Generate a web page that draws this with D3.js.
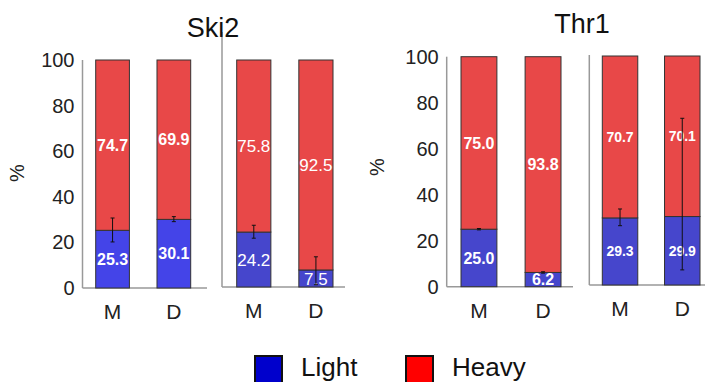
<!DOCTYPE html>
<html>
<head>
<meta charset="utf-8">
<script src="https://cdn.jsdelivr.net/npm/d3@7"></script>
<style>
  body { margin: 0; background: #fff; }
  text { font-family: "Liberation Sans", Arial, sans-serif; }
</style>
</head>
<body>
<svg id="chart" width="705" height="382"></svg>
<script>
// data
const categories = ["M", "D"];
const series = ["Light", "Heavy"];
const yTicks = [0, 20, 40, 60, 80, 100];
const titles = ["Ski2", "Thr1"];

const ski2Light1 = [25.3, 30.1];
const ski2Heavy1 = [74.7, 69.9];
const ski2ErrLo1 = [20.2, 29.1];
const ski2ErrHi1 = [30.7, 31.3];

const ski2Light2 = [24.2, 7.5];
const ski2Heavy2 = [75.8, 92.5];
const ski2ErrLo2 = [21.5, 1.0];
const ski2ErrHi2 = [27.2, 13.3];

const thr1Light1 = [25.0, 6.2];
const thr1Heavy1 = [75.0, 93.8];
const thr1ErrLo1 = [24.7, 5.9];
const thr1ErrHi1 = [25.3, 6.5];

const thr1Light2 = [29.3, 29.9];
const thr1Heavy2 = [70.7, 70.1];
const thr1ErrLo2 = [25.9, 6.6];
const thr1ErrHi2 = [33.2, 72.8];

const svg = d3.select("#chart");
const red = "#e84848";

// one entry per sub panel: geometry + styles
const panels = [
    {light: ski2Light1, heavy: ski2Heavy1, lo: ski2ErrLo1, hi: ski2ErrHi1, axisX: 82.5, lineTop: 60, y0: 288, y100: 60,
     bars: [95.7, 190.7], pad: 0.45, baseEnd: 207, blue: "#4444e8", fs: 16, fw: "bold", ticks: true},
    {light: ski2Light2, heavy: ski2Heavy2, lo: ski2ErrLo2, hi: ski2ErrHi2, axisX: 222, lineTop: 32, y0: 287, y100: 60,
     bars: [236.7, 333], pad: 0.45, baseEnd: 345, blue: "#4646cc", fs: 17, fw: "normal", ticks: false},
    {light: thr1Light1, heavy: thr1Heavy1, lo: thr1ErrLo1, hi: thr1ErrHi1, axisX: 446.7, lineTop: 56.7, y0: 286.7, y100: 56.7,
     bars: [461, 561], pad: 0.44, baseEnd: 573, blue: "#4646cc", fs: 16, fw: "bold", ticks: true},
    {light: thr1Light2, heavy: thr1Heavy2, lo: thr1ErrLo2, hi: thr1ErrHi2, axisX: 589.3, lineTop: 55, y0: 285, y100: 56,
     bars: [602.3, 700], pad: 0.43, baseEnd: 705, blue: "#4646cc", fs: 14, fw: "bold", ticks: false}
];

panels.forEach(p => {
    const g = svg.append("g");
    const x = d3.scaleBand().domain(categories).range(p.bars).paddingInner(p.pad).paddingOuter(0);
    const y = d3.scaleLinear().domain([0, 100]).range([p.y0, p.y100]);

    // axis lines
    g.append("line")
        .attr("x1", p.axisX).attr("x2", p.axisX)
        .attr("y1", p.lineTop).attr("y2", p.y0)
        .attr("stroke", "#999").attr("stroke-width", 1.5);
    g.append("line")
        .attr("x1", p.axisX).attr("x2", p.baseEnd)
        .attr("y1", p.y0).attr("y2", p.y0)
        .attr("stroke", "#999").attr("stroke-width", 1.5);

    if (p.ticks) {
        const yAxis = g.append("g")
            .attr("transform", `translate(${p.axisX},0)`)
            .call(d3.axisLeft(y).tickValues(yTicks).tickSize(0).tickPadding(8));
        yAxis.select(".domain").remove();
        yAxis.selectAll("text")
            .attr("font-size", 20)
            .attr("font-family", "Liberation Sans, Arial, sans-serif")
            .attr("fill", "#222");
    }

    const rows = categories.map((c, i) => ({cat: c, light: p.light[i], heavy: p.heavy[i], lo: p.lo[i], hi: p.hi[i]}));
    const stack = d3.stack().keys(["light", "heavy"])(rows);

    g.selectAll("g.layer")
        .data(stack)
        .enter().append("g")
        .attr("class", "layer")
        .attr("fill", d => d.key === "light" ? p.blue : red)
        .selectAll("rect")
        .data(d => d)
        .enter().append("rect")
        .attr("x", d => x(d.data.cat))
        .attr("width", x.bandwidth())
        .attr("y", d => y(d[1]))
        .attr("height", d => y(d[0]) - y(d[1]))
        .attr("stroke", "#333")
        .attr("stroke-width", 1);

    // value labels in each segment
    stack.forEach(layer => {
        g.selectAll(null)
            .data(layer)
            .enter().append("text")
            .attr("x", d => x(d.data.cat) + x.bandwidth() / 2)
            .attr("y", d => (y(d[0]) + y(d[1])) / 2)
            .attr("dy", "0.36em")
            .attr("text-anchor", "middle")
            .attr("fill", "#fff")
            .attr("font-size", p.fs)
            .attr("font-weight", p.fw)
            .text(d => d3.format(".1f")(d[1] - d[0]));
    });

    // error bars on the light segment
    const eb = g.selectAll("g.err")
        .data(rows)
        .enter().append("g")
        .attr("class", "err")
        .attr("stroke", "#111")
        .attr("stroke-width", 1);
    eb.append("line")
        .attr("x1", d => x(d.cat) + x.bandwidth() / 2)
        .attr("x2", d => x(d.cat) + x.bandwidth() / 2)
        .attr("y1", d => y(d.hi))
        .attr("y2", d => y(d.lo));
    ["hi", "lo"].forEach(k => {
        eb.append("line")
            .attr("x1", d => x(d.cat) + x.bandwidth() / 2 - 2)
            .attr("x2", d => x(d.cat) + x.bandwidth() / 2 + 2)
            .attr("y1", d => y(d[k]))
            .attr("y2", d => y(d[k]));
    });

    // category labels
    g.selectAll(null)
        .data(categories)
        .enter().append("text")
        .attr("x", d => x(d) + x.bandwidth() / 2)
        .attr("y", p.y0 + 31)
        .attr("text-anchor", "middle")
        .attr("font-size", 21)
        .attr("fill", "#222")
        .text(d => d);
});

// titles and y labels
const titleX = [213, 582];
const titleY = [37, 33];
svg.selectAll(".title")
    .data(titles)
    .enter().append("text")
    .attr("class", "title")
    .attr("x", (d, i) => titleX[i])
    .attr("y", (d, i) => titleY[i])
    .attr("text-anchor", "middle")
    .attr("font-size", 27)
    .attr("fill", "#111")
    .text(d => d);

const pctPos = [[17, 173], [377, 167]];
pctPos.forEach(pos => {
    svg.append("text")
        .attr("transform", `translate(${pos[0] + 7},${pos[1]}) rotate(-90)`)
        .attr("text-anchor", "middle")
        .attr("font-size", 20)
        .attr("fill", "#222")
        .text("%");
});

// legend
const legendColors = ["#0000cc", "#ff0000"];
const legendX = [255, 406];
const legend = svg.selectAll(".legend")
    .data(series)
    .enter().append("g")
    .attr("class", "legend")
    .attr("transform", (d, i) => `translate(${legendX[i]},356)`);
legend.append("rect")
    .attr("width", 27).attr("height", 27)
    .attr("fill", (d, i) => legendColors[i])
    .attr("stroke", "#111").attr("stroke-width", 2);
legend.append("text")
    .attr("x", 46)
    .attr("y", 20)
    .attr("font-size", 26)
    .attr("fill", "#111")
    .text(d => d);
</script>
</body>
</html>
